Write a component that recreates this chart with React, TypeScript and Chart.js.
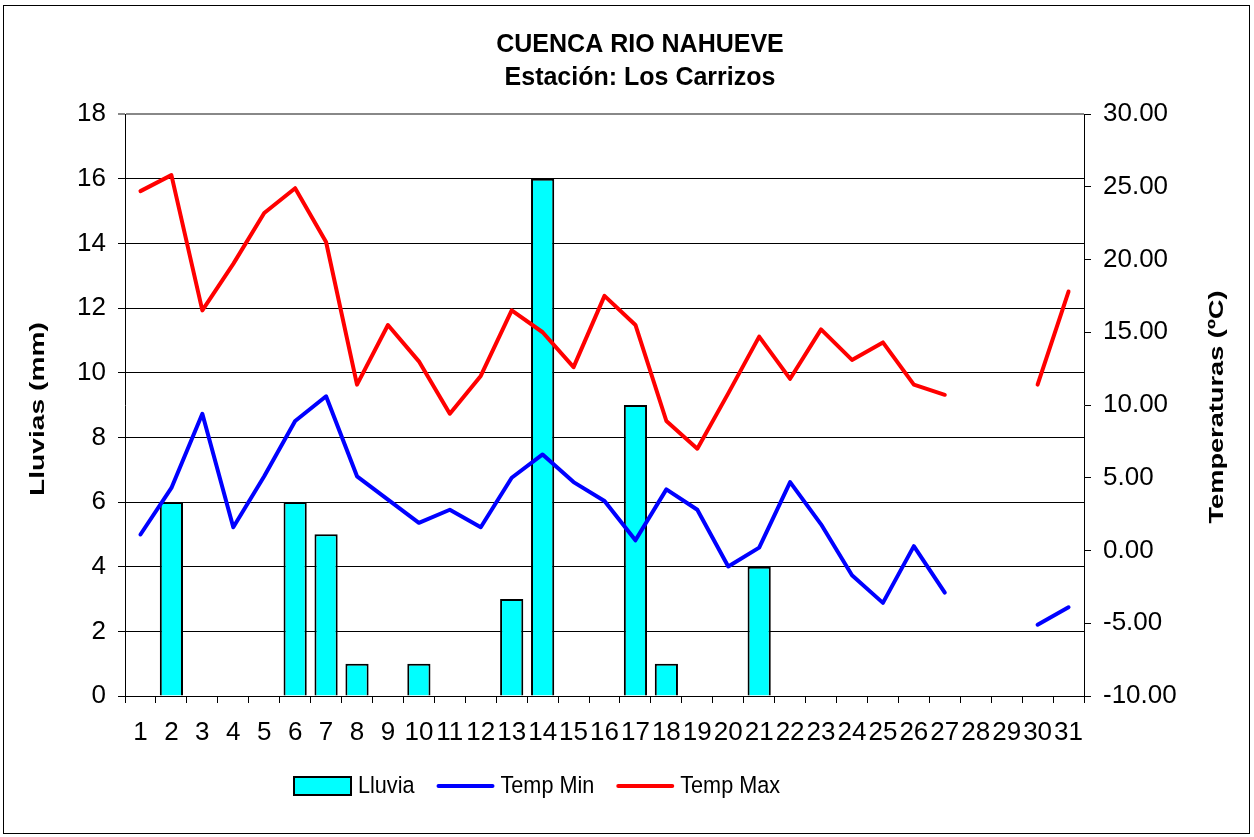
import React, { useEffect, useRef } from "react";
import Chart from "chart.js/auto";

const CHART_TITLE = ["CUENCA RIO NAHUEVE", "Estación: Los Carrizos"];
const Y_TITLE = "Lluvias (mm)";
const Y1_TITLE = "Temperaturas (ºC)";

const days = [
  "1", "2", "3", "4", "5", "6", "7", "8", "9", "10", "11", "12", "13", "14", "15", "16",
  "17", "18", "19", "20", "21", "22", "23", "24", "25", "26", "27", "28", "29", "30", "31",
];

const lluvia = [0, 6, 0, 0, 0, 6, 5, 1, 0, 1, 0, 0, 3, 16, 0, 0, 9, 1, 0, 0, 4, 0, 0, 0, 0, 0, 0, 0, 0, 0, 0];

const tempMin = [
  1.1, 4.3, 9.4, 1.6, 5.1, 8.9, 10.6, 5.1, 3.5, 1.9, 2.8, 1.6, 5.0, 6.6, 4.7, 3.4,
  0.7, 4.2, 2.8, -1.1, 0.2, 4.7, 1.8, -1.7, -3.6, 0.3, -2.9, null, null, -5.1, -3.9,
];

const tempMax = [
  24.7, 25.8, 16.5, 19.7, 23.2, 24.9, 21.2, 11.4, 15.5, 13.0, 9.4, 12.0, 16.5, 15.0, 12.6, 17.5,
  15.5, 8.9, 7.0, 10.8, 14.7, 11.8, 15.2, 13.1, 14.3, 11.4, 10.7, null, null, 11.4, 17.8,
];

const FONT = '"Liberation Sans", Arial, sans-serif';

function drawVerticalTitle(ctx: CanvasRenderingContext2D, text: string, x: number, y: number, len: number) {
  ctx.save();
  ctx.translate(x, y);
  ctx.rotate(-Math.PI / 2);
  ctx.font = `bold 20px ${FONT}`;
  const w = ctx.measureText(text).width;
  ctx.scale(len / w, 1);
  ctx.fillStyle = "#000";
  ctx.textAlign = "center";
  ctx.textBaseline = "middle";
  ctx.fillText(text, 0, 0);
  ctx.restore();
}

const decorPlugin = {
  id: "decor",
  beforeDraw(chart: any) {
    const { ctx, width, height } = chart;
    ctx.save();
    ctx.fillStyle = "#fff";
    ctx.fillRect(0, 0, width, height);
    ctx.strokeStyle = "#000";
    ctx.lineWidth = 1;
    ctx.strokeRect(3.5, 5.5, 1246, 828);
    ctx.restore();
  },
  afterDraw(chart: any) {
    const { ctx, chartArea } = chart;
    const cy = (chartArea.top + chartArea.bottom) / 2;
    drawVerticalTitle(ctx, Y_TITLE, 38, cy + 4, 174);
    drawVerticalTitle(ctx, Y1_TITLE, 1217, cy + 2, 233);

    // legend
    const legendY = 786;
    let x = 294;
    ctx.save();
    ctx.font = `21px ${FONT}`;
    chart.data.datasets.forEach((ds: any) => {
      if (ds.type === "line") {
        ctx.strokeStyle = ds.borderColor;
        ctx.lineWidth = 4;
        ctx.lineCap = "round";
        ctx.beginPath();
        ctx.moveTo(x + 2, legendY);
        ctx.lineTo(x + 56, legendY);
        ctx.stroke();
      } else {
        ctx.fillStyle = ds.backgroundColor;
        ctx.fillRect(x, legendY - 9, 57, 18);
        ctx.strokeStyle = ds.borderColor;
        ctx.lineWidth = 2;
        ctx.strokeRect(x, legendY - 9, 57, 18);
      }
      x += 57 + 7;
      const tw = ctx.measureText(ds.label).width * 1.03;
      ctx.save();
      ctx.translate(x, legendY);
      ctx.scale(1.03, 1.18);
      ctx.fillStyle = "#000";
      ctx.textAlign = "left";
      ctx.textBaseline = "middle";
      ctx.fillText(ds.label, 0, 0);
      ctx.restore();
      x += tw + 22;
    });
    ctx.restore();
  },
};

export default function App() {
  const canvasRef = useRef<HTMLCanvasElement | null>(null);

  useEffect(() => {
    if (!canvasRef.current) return;
    const chart = new Chart(canvasRef.current, {
      type: "bar",
      data: {
        labels: days,
        datasets: [
          {
            type: "bar",
            label: "Lluvia",
            data: lluvia,
            backgroundColor: "#00FFFF",
            borderColor: "#000000",
            borderWidth: 2,
            barPercentage: 0.75,
            categoryPercentage: 1,
            yAxisID: "y",
            order: 2,
          },
          {
            type: "line",
            label: "Temp Min",
            data: tempMin,
            borderColor: "#0000FF",
            backgroundColor: "#0000FF",
            borderWidth: 4,
            pointRadius: 0,
            tension: 0,
            spanGaps: false,
            borderJoinStyle: "round",
            borderCapStyle: "round",
            yAxisID: "y1",
            order: 1,
          },
          {
            type: "line",
            label: "Temp Max",
            data: tempMax,
            borderColor: "#FF0000",
            backgroundColor: "#FF0000",
            borderWidth: 4,
            pointRadius: 0,
            tension: 0,
            spanGaps: false,
            borderJoinStyle: "round",
            borderCapStyle: "round",
            yAxisID: "y1",
            order: 1,
          },
        ] as any,
      },
      options: {
        responsive: false,
        devicePixelRatio: 1,
        animation: false,
        layout: { padding: { left: 26, right: 0, top: 0, bottom: 0 } },
        plugins: {
          legend: { display: false },
          tooltip: { enabled: false },
          title: {
            display: true,
            text: CHART_TITLE,
            color: "#000",
            font: { family: FONT, size: 25, weight: "bold", lineHeight: 1.32 },
            padding: { top: 29, bottom: 19 },
          },
        },
        scales: {
          x: {
            offset: true,
            afterFit: (s: any) => {
              s.height = 141;
            },
            grid: {
              offset: true,
              drawOnChartArea: false,
              drawTicks: true,
              tickLength: 7,
              color: "#000",
            },
            border: { color: "#000", width: 1 },
            ticks: {
              autoSkip: false,
              maxRotation: 0,
              minRotation: 0,
              padding: 14,
              color: "#000",
              font: { family: FONT, size: 26 },
            },
          },
          y: {
            position: "left",
            min: 0,
            max: 18,
            afterFit: (s: any) => {
              s.width = 99;
            },
            grid: {
              color: (c: any) => (c.tick && c.tick.value === 18 ? "#888" : "#000"),
              lineWidth: (c: any) => (c.tick && c.tick.value === 18 ? 2 : 1),
              drawTicks: true,
              tickLength: 7,
            },
            border: { color: "#000", width: 1 },
            ticks: {
              stepSize: 2,
              padding: 12,
              color: "#000",
              font: { family: FONT, size: 26 },
            },
          },
          y1: {
            position: "right",
            min: -10,
            max: 30,
            afterFit: (s: any) => {
              s.width = 170;
            },
            grid: {
              drawOnChartArea: false,
              drawTicks: true,
              tickLength: 7,
              color: "#000",
            },
            border: { color: "#000", width: 1 },
            ticks: {
              stepSize: 5,
              padding: 12,
              color: "#000",
              font: { family: FONT, size: 26 },
              callback: (v: any) => Number(v).toFixed(2),
            },
          },
        },
      } as any,
      plugins: [decorPlugin],
    });
    return () => chart.destroy();
  }, []);

  return (
    <div style={{ position: "fixed", left: 0, top: 0, width: 1254, height: 837, background: "#fff" }}>
      <canvas ref={canvasRef} width={1254} height={837} style={{ width: 1254, height: 837, display: "block" }} />
    </div>
  );
}
